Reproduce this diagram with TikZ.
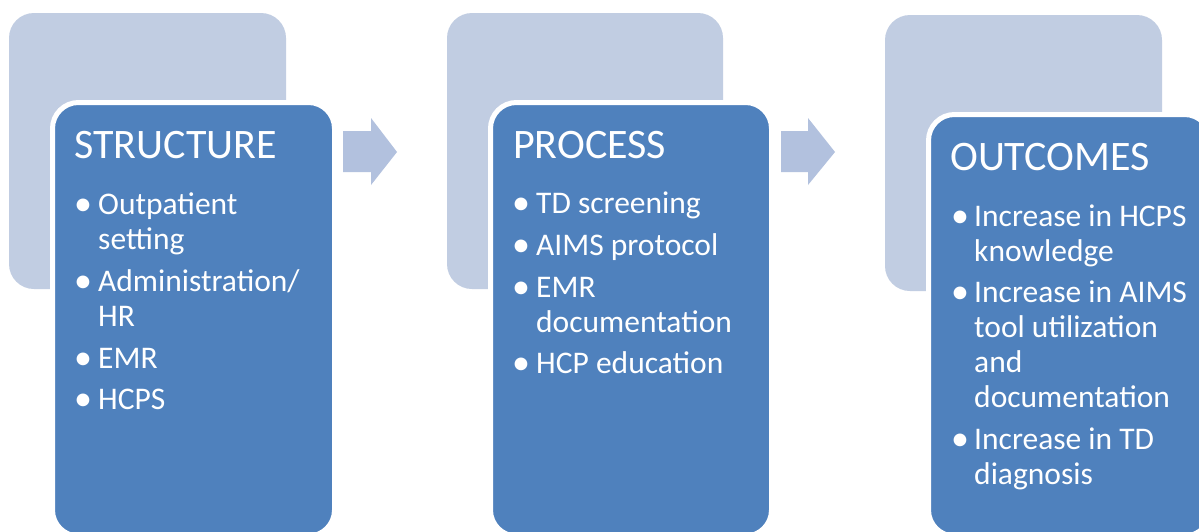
\documentclass[tikz,border=0pt]{standalone}
\usepackage{fontspec}
\setmainfont{Carlito}
\definecolor{backc}{HTML}{C1CDE2}
\definecolor{frontc}{HTML}{4F81BD}
\definecolor{arrowc}{HTML}{B2C1DE}
\newcommand{\mlines}[1]{\begin{tabular}[t]{@{}l@{}}#1\end{tabular}}
\newcommand{\bigdot}{\raisebox{-1pt}{\fontsize{36}{36}\selectfont •}}
\begin{document}
\begin{tikzpicture}[x=1pt,y=-1pt,
  backbox/.style={fill=backc,rounded corners=25pt},
  frontbox/.style={fill=frontc,draw=white,line width=5pt,rounded corners=26pt},
  blockarrow/.style={fill=arrowc},
  title/.style={anchor=base west,inner sep=0pt,text=white,font=\fontsize{42}{46}\selectfont},
  item/.style={anchor=base west,inner sep=0pt,text=white,font=\fontsize{31.5}{35.3}\selectfont},
  dot/.style={anchor=base west,inner sep=0pt,text=white}]
\fill[white] (0,0) rectangle (1199,531);
\useasboundingbox (0,0) rectangle (1199,531);
\clip (0,0) rectangle (1199,531);
% panel 1
\fill[backbox] (9,13) rectangle (286,289);
\draw[frontbox] (52.5,102.5) rectangle (334.5,536);
\node[title] (t1) at (74,158) {STRUCTURE};
\node[dot] (d11) at (74,214) {\bigdot};
\node[item] (i11) at (98,214) {\mlines{Outpatient\\setting}};
\node[dot] (d12) at (74,291) {\bigdot};
\node[item] (i12) at (98,291) {\mlines{Administration/\\HR}};
\node[dot] (d13) at (74,368.5) {\bigdot};
\node[item] (i13) at (98,368.5) {EMR};
\node[dot] (d14) at (74,409) {\bigdot};
\node[item] (i14) at (98,409) {HCPS};
% arrow 1
\fill[blockarrow] (343,131) -- (371,131) -- (371,118) -- (397,152) -- (371,185) -- (371,172) -- (343,172) -- cycle;
% panel 2
\fill[backbox] (447,13) rectangle (723,289);
\draw[frontbox] (490.5,102.5) rectangle (771.5,536);
\node[title] (t2) at (513,158) {PROCESS};
\node[dot] (d21) at (512,213) {\bigdot};
\node[item] (i21) at (536,213) {TD screening};
\node[dot] (d22) at (512,255) {\bigdot};
\node[item] (i22) at (536,255) {AIMS protocol};
\node[dot] (d23) at (512,297) {\bigdot};
\node[item] (i23) at (536,297) {\mlines{EMR\\documentation}};
\node[dot] (d24) at (512,373.5) {\bigdot};
\node[item] (i24) at (536,373.5) {HCP education};
% arrow 2
\fill[blockarrow] (781,131) -- (808,131) -- (808,118) -- (835,152) -- (808,185) -- (808,172) -- (781,172) -- cycle;
% panel 3
\fill[backbox] (885,15) rectangle (1162,291);
\draw[frontbox] (928.5,114.5) rectangle (1210.5,536);
\node[title] (t3) at (950,170) {OUTCOMES};
\node[dot] (d31) at (951,226) {\bigdot};
\node[item] (i31) at (974,226) {\mlines{Increase in HCPS\\knowledge}};
\node[dot] (d32) at (951,302) {\bigdot};
\node[item] (i32) at (974,302) {\mlines{Increase in AIMS\\tool utilization\\and\\documentation}};
\node[dot] (d33) at (951,449) {\bigdot};
\node[item] (i33) at (974,449) {\mlines{Increase in TD\\diagnosis}};
\end{tikzpicture}
\end{document}
